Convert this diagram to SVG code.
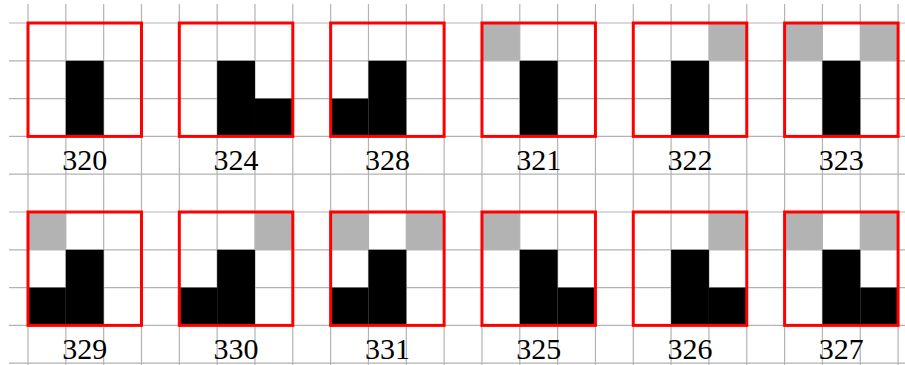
<svg xmlns="http://www.w3.org/2000/svg" width="905" height="365" viewBox="0 0 905 365">
<style>
.grid{stroke:#b3b3b3;stroke-width:1.2;fill:none}
.k{fill:#000}
.g{fill:#b3b3b3}
.box{fill:none;stroke:#ff0000;stroke-width:3}
.lbl{font-family:"Liberation Serif","Times New Roman",serif;font-size:30px;fill:#000;text-anchor:middle}
</style>
<rect width="905" height="365" fill="#fff"/>
<path class="grid" d="M28 4V365M65.83 4V365M103.66 4V365M141.49 4V365M179.32 4V365M217.15 4V365M254.98 4V365M292.81 4V365M330.64 4V365M368.47 4V365M406.3 4V365M444.13 4V365M481.96 4V365M519.79 4V365M557.62 4V365M595.45 4V365M633.28 4V365M671.11 4V365M708.94 4V365M746.77 4V365M784.6 4V365M822.43 4V365M860.26 4V365M898.09 4V365M9 23H905M9 60.8H905M9 98.6H905M9 136.4H905M9 174.2H905M9 212H905M9 249.8H905M9 287.6H905M9 325.4H905M9 363.2H905"/>
<g id="n320">
<rect class="k" x="65.83" y="60.8" width="37.83" height="75.6"/>
<rect class="box" x="28" y="23" width="113.49" height="113.4"/>
<text class="lbl" x="84.75" y="170">320</text>
</g>
<g id="n324">
<rect class="k" x="217.15" y="60.8" width="37.83" height="75.6"/>
<rect class="k" x="254.98" y="98.6" width="37.83" height="37.8"/>
<rect class="box" x="179.32" y="23" width="113.49" height="113.4"/>
<text class="lbl" x="236.07" y="170">324</text>
</g>
<g id="n328">
<rect class="k" x="368.47" y="60.8" width="37.83" height="75.6"/>
<rect class="k" x="330.64" y="98.6" width="37.83" height="37.8"/>
<rect class="box" x="330.64" y="23" width="113.49" height="113.4"/>
<text class="lbl" x="387.39" y="170">328</text>
</g>
<g id="n321">
<rect class="g" x="481.96" y="23" width="37.83" height="37.8"/>
<rect class="k" x="519.79" y="60.8" width="37.83" height="75.6"/>
<rect class="box" x="481.96" y="23" width="113.49" height="113.4"/>
<text class="lbl" x="538.71" y="170">321</text>
</g>
<g id="n322">
<rect class="g" x="708.94" y="23" width="37.83" height="37.8"/>
<rect class="k" x="671.11" y="60.8" width="37.83" height="75.6"/>
<rect class="box" x="633.28" y="23" width="113.49" height="113.4"/>
<text class="lbl" x="690.03" y="170">322</text>
</g>
<g id="n323">
<rect class="g" x="784.6" y="23" width="37.83" height="37.8"/>
<rect class="g" x="860.26" y="23" width="37.83" height="37.8"/>
<rect class="k" x="822.43" y="60.8" width="37.83" height="75.6"/>
<rect class="box" x="784.6" y="23" width="113.49" height="113.4"/>
<text class="lbl" x="841.35" y="170">323</text>
</g>
<g id="n329">
<rect class="g" x="28" y="212" width="37.83" height="37.8"/>
<rect class="k" x="65.83" y="249.8" width="37.83" height="75.6"/>
<rect class="k" x="28" y="287.6" width="37.83" height="37.8"/>
<rect class="box" x="28" y="212" width="113.49" height="113.4"/>
<text class="lbl" x="84.75" y="359">329</text>
</g>
<g id="n330">
<rect class="g" x="254.98" y="212" width="37.83" height="37.8"/>
<rect class="k" x="217.15" y="249.8" width="37.83" height="75.6"/>
<rect class="k" x="179.32" y="287.6" width="37.83" height="37.8"/>
<rect class="box" x="179.32" y="212" width="113.49" height="113.4"/>
<text class="lbl" x="236.07" y="359">330</text>
</g>
<g id="n331">
<rect class="g" x="330.64" y="212" width="37.83" height="37.8"/>
<rect class="g" x="406.3" y="212" width="37.83" height="37.8"/>
<rect class="k" x="368.47" y="249.8" width="37.83" height="75.6"/>
<rect class="k" x="330.64" y="287.6" width="37.83" height="37.8"/>
<rect class="box" x="330.64" y="212" width="113.49" height="113.4"/>
<text class="lbl" x="387.39" y="359">331</text>
</g>
<g id="n325">
<rect class="g" x="481.96" y="212" width="37.83" height="37.8"/>
<rect class="k" x="519.79" y="249.8" width="37.83" height="75.6"/>
<rect class="k" x="557.62" y="287.6" width="37.83" height="37.8"/>
<rect class="box" x="481.96" y="212" width="113.49" height="113.4"/>
<text class="lbl" x="538.71" y="359">325</text>
</g>
<g id="n326">
<rect class="g" x="708.94" y="212" width="37.83" height="37.8"/>
<rect class="k" x="671.11" y="249.8" width="37.83" height="75.6"/>
<rect class="k" x="708.94" y="287.6" width="37.83" height="37.8"/>
<rect class="box" x="633.28" y="212" width="113.49" height="113.4"/>
<text class="lbl" x="690.03" y="359">326</text>
</g>
<g id="n327">
<rect class="g" x="784.6" y="212" width="37.83" height="37.8"/>
<rect class="g" x="860.26" y="212" width="37.83" height="37.8"/>
<rect class="k" x="822.43" y="249.8" width="37.83" height="75.6"/>
<rect class="k" x="860.26" y="287.6" width="37.83" height="37.8"/>
<rect class="box" x="784.6" y="212" width="113.49" height="113.4"/>
<text class="lbl" x="841.35" y="359">327</text>
</g>
<g id="connectors"/>
</svg>
